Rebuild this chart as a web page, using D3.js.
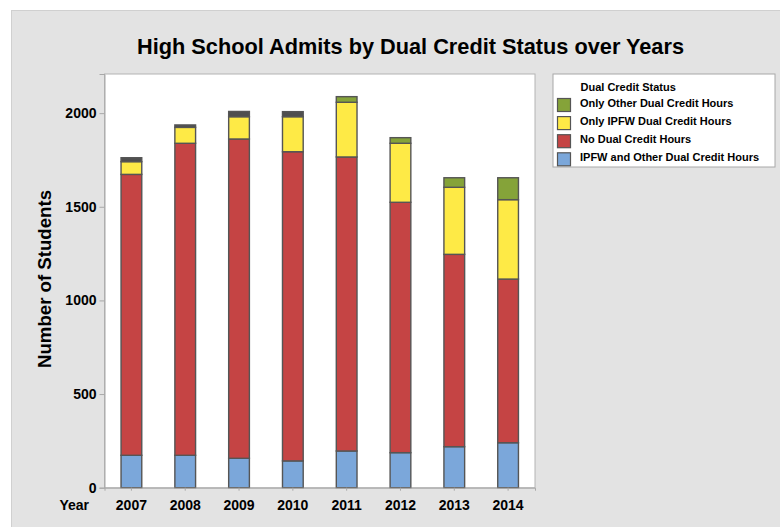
<!DOCTYPE html>
<html>
<head>
<meta charset="utf-8">
<script src="https://cdn.jsdelivr.net/npm/d3@7"></script>
<style>
  html, body { margin: 0; padding: 0; background: #ffffff; }
  svg { display: block; font-family: "Liberation Sans", Arial, sans-serif; }
</style>
</head>
<body>
<svg id="chart" width="780" height="527"></svg>
<script>
// ---- data ----
const years = ["2007", "2008", "2009", "2010", "2011", "2012", "2013", "2014"];
const ipfwAndOther = [173, 173, 157, 143, 196, 187, 219, 240];
const noDualCredit = [1500, 1666, 1705, 1651, 1570, 1337, 1027, 874];
const onlyIpfw = [68, 85, 119, 187, 292, 315, 358, 424];
const onlyOther = [0, 0, 0, 0, 30, 30, 51, 117];
const unlabeled = [21, 13, 28, 27, 0, 0, 0, 0];
const yTicks = [0, 500, 1000, 1500, 2000];
const seriesNames = ["IPFW and Other Dual Credit Hours", "No Dual Credit Hours", "Only IPFW Dual Credit Hours", "Only Other Dual Credit Hours", "Unlabeled"];
const legendTitle = "Dual Credit Status";
const titleText = "High School Admits by Dual Credit Status over Years";
const yLabel = "Number of Students";
const xLabel = "Year";

const colors = {
  "IPFW and Other Dual Credit Hours": "#7ba7da",
  "No Dual Credit Hours": "#c54444",
  "Only IPFW Dual Credit Hours": "#feea46",
  "Only Other Dual Credit Hours": "#85a339",
  "Unlabeled": "#4f4f4f"
};

const rows = years.map((y, i) => ({
  year: y,
  [seriesNames[0]]: ipfwAndOther[i],
  [seriesNames[1]]: noDualCredit[i],
  [seriesNames[2]]: onlyIpfw[i],
  [seriesNames[3]]: onlyOther[i],
  [seriesNames[4]]: unlabeled[i]
}));

const svg = d3.select("#chart");

// background panel
svg.append("rect").attr("x", 11.5).attr("y", 10.5).attr("width", 770).attr("height", 520)
  .attr("fill", "#e3e3e3").attr("stroke", "#d0d0d0");

// plot area
const plot = { left: 104.5, right: 535, top: 74, bottom: 487.7 };
svg.append("rect").attr("x", plot.left).attr("y", plot.top)
  .attr("width", plot.right - plot.left).attr("height", plot.bottom - plot.top)
  .attr("fill", "#ffffff").attr("stroke", "#b4b4b4").attr("stroke-width", 1);

const x = d3.scaleBand().domain(years).range([plot.left, plot.right])
  .paddingInner(0.615).paddingOuter(0.3075);
const y = d3.scaleLinear().domain([0, 2209]).range([plot.bottom, plot.top]);

// stacked bars
const stack = d3.stack().keys(seriesNames);
const stacked = stack(rows);
const g = svg.append("g");
stacked.forEach(layer => {
  g.selectAll(null)
    .data(layer.filter(d => d[1] - d[0] > 0))
    .enter().append("rect")
    .attr("x", d => x(d.data.year))
    .attr("width", x.bandwidth())
    .attr("y", d => y(d[1]))
    .attr("height", d => y(d[0]) - y(d[1]))
    .attr("fill", colors[layer.key])
    .attr("stroke", "#555555")
    .attr("stroke-width", 1.4);
});

// y axis
const yAxis = svg.append("g").attr("transform", `translate(${plot.left},0)`)
  .call(d3.axisLeft(y).tickValues(yTicks).tickFormat(d3.format("d")).tickSize(5).tickPadding(3));
yAxis.select(".domain").attr("stroke", "#a8a8a8");
yAxis.selectAll(".tick line").attr("stroke", "#a8a8a8");
yAxis.selectAll("text").attr("font-size", 14).attr("font-weight", "bold").attr("fill", "#000")
  .attr("font-family", "Liberation Sans, Arial, sans-serif");

// x axis
const xAxis = svg.append("g").attr("transform", `translate(0,${plot.bottom})`)
  .call(d3.axisBottom(x).tickSize(3).tickPadding(9));
xAxis.select(".domain").attr("stroke", "#a8a8a8");
xAxis.selectAll(".tick line").attr("stroke", "#a8a8a8");
xAxis.selectAll("text").attr("font-size", 14).attr("font-weight", "bold").attr("fill", "#000")
  .attr("font-family", "Liberation Sans, Arial, sans-serif");

svg.append("text").attr("x", 89).attr("y", 510).attr("text-anchor", "end")
  .attr("font-size", 14).attr("font-weight", "bold").text(xLabel);

// y label
svg.append("text").attr("transform", "translate(51,279) rotate(-90)")
  .attr("text-anchor", "middle").attr("font-size", 18).attr("font-weight", "bold")
  .attr("textLength", 178).attr("lengthAdjust", "spacingAndGlyphs")
  .text(yLabel);

// title
svg.append("text").attr("x", 137).attr("y", 54)
  .attr("font-size", 22).attr("font-weight", "bold")
  .attr("textLength", 547).attr("lengthAdjust", "spacingAndGlyphs")
  .text(titleText);

// legend
const lg = svg.append("g");
lg.append("rect").attr("x", 553).attr("y", 74).attr("width", 222).attr("height", 93)
  .attr("fill", "#ffffff").attr("stroke", "#a8a8a8");
lg.append("text").attr("x", 580.5).attr("y", 91).attr("font-size", 11).attr("font-weight", "bold")
  .text(legendTitle);
const legendKeys = [seriesNames[3], seriesNames[2], seriesNames[1], seriesNames[0]];
legendKeys.forEach((k, i) => {
  lg.append("rect").attr("x", 557.5).attr("y", 98.5 + i * 18.1).attr("width", 13).attr("height", 13)
    .attr("fill", colors[k]).attr("stroke", "#555555").attr("stroke-width", 1.2);
  lg.append("text").attr("x", 580).attr("y", 106.8 + i * 18.1)
    .attr("font-size", 11).attr("font-weight", "bold").text(k);
});
</script>
</body>
</html>
